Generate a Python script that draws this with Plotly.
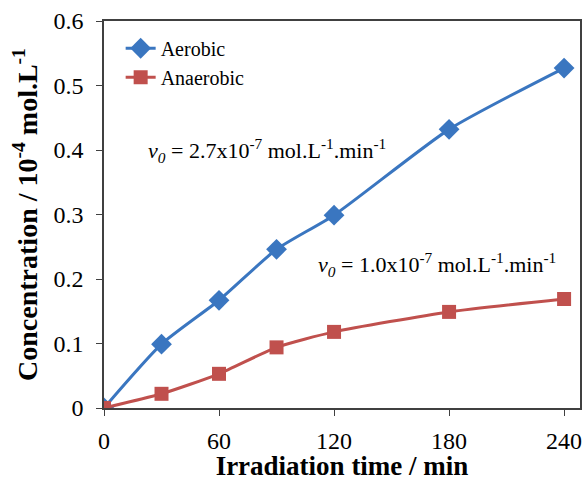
import plotly.graph_objects as go

# Irradiation time (min) and concentration (10^-4 mol/L)
time_min = [0, 30, 60, 90, 120, 180, 240]
aerobic = [0.0, 0.099, 0.167, 0.246, 0.299, 0.432, 0.527]
anaerobic = [0.0, 0.022, 0.053, 0.094, 0.118, 0.149, 0.169]

x_ticks = [0, 60, 120, 180, 240]
y_ticks = [0, 0.1, 0.2, 0.3, 0.4, 0.5, 0.6]
y_tick_labels = ["0", "0.1", "0.2", "0.3", "0.4", "0.5", "0.6"]

BLUE = "#3A76C0"
RED = "#C0504D"
FONT = "Liberation Serif, serif"

fig = go.Figure()
fig.add_trace(go.Scatter(
    x=time_min, y=aerobic, name="Aerobic", mode="lines+markers",
    line=dict(color=BLUE, width=3, shape="spline", smoothing=0.6),
    marker=dict(symbol="diamond", size=16, color=BLUE),
))
fig.add_trace(go.Scatter(
    x=time_min, y=anaerobic, name="Anaerobic", mode="lines+markers",
    line=dict(color=RED, width=3, shape="spline", smoothing=0.6),
    marker=dict(symbol="square", size=14, color=RED),
))

fig.add_annotation(
    x=0.088, y=0.4, xref="paper", yref="y", xanchor="left", yanchor="middle",
    text="<i>v<sub>0</sub></i> = 2.7x10<sup>-7</sup> mol.L<sup>-1</sup>.min<sup>-1</sup>",
    showarrow=False, font=dict(family=FONT, size=22, color="black"),
)
fig.add_annotation(
    x=0.446, y=0.222, xref="paper", yref="y", xanchor="left", yanchor="middle",
    text="<i>v<sub>0</sub></i> = 1.0x10<sup>-7</sup> mol.L<sup>-1</sup>.min<sup>-1</sup>",
    showarrow=False, font=dict(family=FONT, size=22, color="black"),
)

fig.update_layout(
    width=587, height=481,
    margin=dict(l=104, r=5, t=21, b=71),
    plot_bgcolor="white", paper_bgcolor="white",
    font=dict(family=FONT, size=20, color="black"),
    showlegend=True,
    legend=dict(
        x=0.035, y=0.98, xanchor="left", yanchor="top",
        font=dict(family=FONT, size=20, color="black"),
        bgcolor="rgba(0,0,0,0)", tracegroupgap=0, itemwidth=30,
    ),
    xaxis=dict(
        range=[0, 248.3], tickvals=x_ticks, ticks="outside", ticklen=6,
        tickcolor="#404040", showgrid=False, zeroline=False,
        showline=True, linecolor="#404040", linewidth=1.5, mirror=True,
        tickfont=dict(family=FONT, size=24), ticklabelstandoff=4,
        title=dict(text="<b>Irradiation time / min</b>", font=dict(family=FONT, size=27), standoff=4),
    ),
    yaxis=dict(
        range=[0, 0.6], tickvals=y_ticks, ticktext=y_tick_labels,
        ticks="outside", ticklen=6, tickcolor="#404040",
        showgrid=False, zeroline=False,
        showline=True, linecolor="#404040", linewidth=1.5, mirror=True,
        tickfont=dict(family=FONT, size=24), ticklabelstandoff=8,
        title=dict(text="<b>Concentration / 10<sup>-4</sup> mol.L<sup>-1</sup></b>",
                   font=dict(family=FONT, size=28), standoff=8),
    ),
)

fig.write_html("out.html")
